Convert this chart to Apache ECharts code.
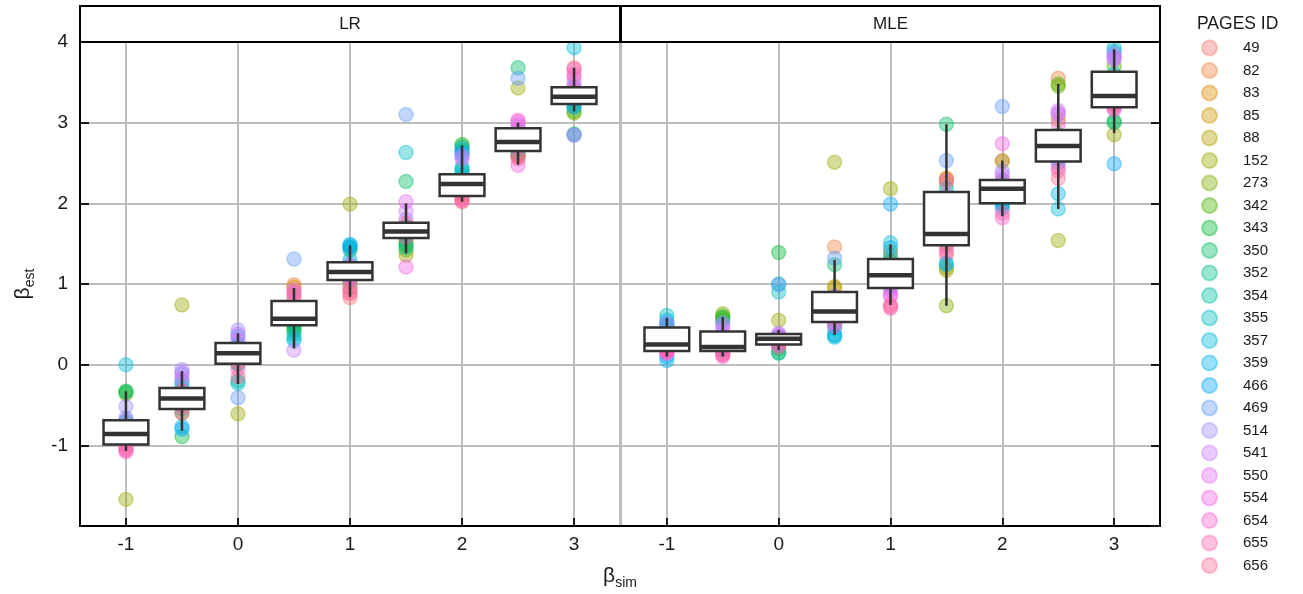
<!DOCTYPE html>
<html>
<head>
<meta charset="utf-8">
<script src="https://cdn.jsdelivr.net/npm/echarts@6/dist/echarts.min.js"></script>
<style>html,body{margin:0;padding:0;background:#fff}#c{width:1303px;height:594px}</style>
</head>
<body>
<div id="c"></div>
<script>
// ---- data ----
const ids = ['49','82','83','85','88','152','273','342','343','350','352','354','355','357','359','466','469','514','541','550','554','654','655','656'];
const xSim = [-1, -0.5, 0, 0.5, 1, 1.5, 2, 2.5, 3];
const facets = ['LR', 'MLE'];

// LR estimates, one array per beta_sim, ordered like ids
const lr_m1   = [-0.95,-0.90,-0.85,-0.88,-0.80,-1.67,-0.36,-0.78,-0.33,-0.34,-0.72,-0.70,-0.92,0.00,-0.87,-0.84,-0.66,-0.52,-0.69,-0.98,-1.05,-1.08,-1.06,-1.02];
const lr_m05  = [-0.45,-0.40,-0.38,-0.50,-0.35,0.74,-0.47,-0.60,-0.89,-0.55,-0.30,-0.43,-0.20,-0.25,-0.77,-0.80,-0.12,-0.06,-0.10,-0.18,-0.42,-0.52,-0.60,-0.33];
const lr_0    = [0.10,0.20,0.15,0.05,0.18,-0.61,0.12,0.08,0.02,0.22,0.00,-0.20,-0.23,0.14,0.25,0.35,-0.41,0.43,0.38,0.30,0.12,-0.05,0.03,-0.15];
const lr_05   = [0.90,0.99,0.96,0.85,0.60,0.55,0.50,0.45,0.42,0.48,0.52,0.38,0.33,0.30,0.58,0.62,1.31,0.70,0.18,0.92,0.88,0.56,0.80,0.65];
const lr_1    = [0.83,1.10,1.05,1.12,1.20,1.99,0.95,1.02,1.46,1.42,1.18,1.15,1.30,1.48,1.49,1.45,1.25,1.14,1.08,1.22,1.06,0.95,0.90,0.88];
const lr_15   = [1.60,1.66,1.70,1.62,1.55,1.36,1.42,1.48,1.50,2.27,1.58,1.45,2.63,1.72,1.63,1.68,3.10,1.80,1.90,2.02,1.21,1.65,1.58,1.75];
const lr_2    = [2.02,2.15,2.20,2.25,2.10,2.30,2.18,2.70,2.73,2.65,2.42,2.35,2.40,2.45,2.68,2.62,2.60,2.58,2.55,2.28,2.12,2.05,2.03,2.08];
const lr_25   = [2.60,2.70,2.75,2.80,2.85,3.43,2.72,2.58,2.62,3.68,2.78,2.66,2.90,2.82,2.76,2.70,3.55,2.95,2.98,3.01,2.47,3.03,2.55,2.58];
const lr_3    = [3.68,3.30,3.35,3.40,3.25,3.20,3.12,3.14,2.86,3.28,3.33,3.30,3.45,3.93,3.22,3.19,2.85,2.84,3.56,3.50,3.42,3.66,3.60,3.38];

// MLE estimates
const mle_m1  = [0.22,0.25,0.28,0.20,0.30,0.24,0.26,0.35,0.40,0.45,0.48,0.50,0.61,0.55,0.05,0.10,0.52,0.50,0.18,0.16,0.15,0.14,0.17,0.20];
const mle_m05 = [0.20,0.22,0.24,0.25,0.30,0.55,0.63,0.60,0.58,0.35,0.28,0.21,0.20,0.19,0.18,0.30,0.52,0.50,0.45,0.40,0.13,0.10,0.12,0.15];
const mle_0   = [0.30,0.31,0.33,0.34,0.32,0.55,0.28,0.20,1.39,0.15,0.14,1.00,0.90,0.27,0.26,0.35,0.99,0.37,0.39,0.36,0.30,0.25,0.22,0.29];
const mle_05  = [0.70,1.46,0.80,0.95,0.97,2.51,0.60,0.65,0.55,1.24,0.50,0.45,0.37,0.34,0.36,0.62,1.32,0.75,0.85,0.52,0.48,0.66,0.58,0.68];
const mle_1   = [1.05,1.20,1.40,1.30,1.25,2.18,1.15,1.10,1.00,0.98,1.12,1.28,1.35,1.51,1.45,1.99,1.08,0.95,0.92,0.86,0.85,0.72,0.70,0.74];
const mle_15  = [1.36,2.30,2.31,2.25,1.17,1.20,0.73,1.50,1.60,2.98,1.55,1.62,2.18,1.24,1.26,1.90,2.53,1.70,2.10,2.05,2.28,1.45,1.40,1.65];
const mle_2   = [2.53,2.20,2.18,2.15,2.22,2.52,2.10,2.25,2.05,2.00,2.12,2.19,2.28,2.02,1.98,1.94,3.20,2.40,2.35,2.30,2.74,1.82,1.88,2.16];
const mle_25  = [2.60,3.55,2.80,3.04,2.75,1.54,3.45,3.48,2.85,2.70,2.65,2.72,2.55,1.93,2.12,2.50,2.68,3.10,3.15,3.12,2.98,2.45,2.40,2.31];
const mle_3   = [3.30,3.35,3.25,3.40,3.50,2.85,3.20,3.70,3.00,3.02,3.45,3.55,3.93,3.88,3.60,2.49,3.80,3.85,3.82,3.78,3.16,3.18,3.22,3.28];

// box statistics per beta_sim (whisker low, Q1, median, Q3, whisker high)
const lrLo  = [-1.07,-0.82,-0.24,0.20,0.84,1.38,2.02,2.48,3.14];
const lrQ1  = [-0.99,-0.55,0.01,0.49,1.05,1.57,2.09,2.65,3.23];
const lrMed = [-0.86,-0.42,0.14,0.57,1.15,1.65,2.24,2.76,3.32];
const lrQ3  = [-0.69,-0.29,0.27,0.79,1.27,1.76,2.36,2.93,3.44];
const lrHi  = [-0.33,-0.08,0.39,0.95,1.48,2.00,2.72,3.00,3.68];

const mleLo  = [0.10,0.10,0.18,0.37,0.74,0.73,1.84,1.93,2.87];
const mleQ1  = [0.17,0.17,0.25,0.53,0.95,1.48,2.00,2.52,3.19];
const mleMed = [0.25,0.22,0.32,0.66,1.11,1.62,2.18,2.71,3.33];
const mleQ3  = [0.46,0.41,0.38,0.90,1.31,2.14,2.29,2.91,3.63];
const mleHi  = [0.58,0.59,0.43,1.30,1.49,2.98,2.53,3.48,3.91];

const yTicks = [-1, 0, 1, 2, 3, 4];

// ---- colours: ggplot hue palette (HCL, l=65, c=100) ----
function hcl(h, c, l) {
  const hr = h * Math.PI / 180;
  const U = c * Math.cos(hr), V = c * Math.sin(hr);
  const Xn = 95.047, Yn = 100, Zn = 108.883;
  const t = Xn + 15 * Yn + 3 * Zn, un = 4 * Xn / t, vn = 9 * Yn / t;
  const Y = Yn * Math.pow((l + 16) / 116, 3);
  const up = U / (13 * l) + un, vp = V / (13 * l) + vn;
  const X = 9 * Y * up / (4 * vp);
  const Z = -X / 3 - 5 * Y + 3 * Y / vp;
  const x = X / 100, y = Y / 100, z = Z / 100;
  const lin = [3.240479 * x - 1.537150 * y - 0.498535 * z,
               -0.969256 * x + 1.875992 * y + 0.041556 * z,
               0.055648 * x - 0.204043 * y + 1.057311 * z];
  return lin.map(v => {
    v = v <= 0.0031308 ? 12.92 * v : 1.055 * Math.pow(v, 1 / 2.4) - 0.055;
    return Math.round(Math.max(0, Math.min(1, v)) * 255);
  });
}
const palette = ids.map((_, i) => hcl(15 + 360 * i / ids.length, 100, 65));
const rgba = (c, a) => `rgba(${c[0]},${c[1]},${c[2]},${a})`;

const lrPts = [lr_m1, lr_m05, lr_0, lr_05, lr_1, lr_15, lr_2, lr_25, lr_3];
const mlePts = [mle_m1, mle_m05, mle_0, mle_05, mle_1, mle_15, mle_2, mle_25, mle_3];
const boxes = [
  xSim.map((x, i) => [x, lrLo[i], lrQ1[i], lrMed[i], lrQ3[i], lrHi[i]]),
  xSim.map((x, i) => [x, mleLo[i], mleQ1[i], mleMed[i], mleQ3[i], mleHi[i]])
];

const FONT = 'Liberation Sans, Arial, sans-serif';
const TXT = '#1a1a1a';

const series = [];
[lrPts, mlePts].forEach((pts, g) => {
  ids.forEach((id, k) => {
    series.push({
      type: 'scatter', name: id, xAxisIndex: g, yAxisIndex: g,
      symbol: 'circle', symbolSize: 14,
      itemStyle: { color: rgba(palette[k], 0.5), borderColor: rgba(palette[k], 0.5), borderWidth: 1.5 },
      emphasis: { disabled: true },
      data: xSim.map((x, i) => [x, pts[i][k]]),
      z: 2
    });
  });
});
boxes.forEach((bx, g) => {
  series.push({
    type: 'custom', xAxisIndex: g, yAxisIndex: g, z: 5, silent: true,
    data: bx,
    renderItem: function (params, api) {
      const x = api.value(0);
      const lo = api.coord([x, api.value(1)]);
      const q1 = api.coord([x, api.value(2)]);
      const md = api.coord([x, api.value(3)]);
      const q3 = api.coord([x, api.value(4)]);
      const hi = api.coord([x, api.value(5)]);
      const w = api.size([0.4, 0])[0];
      const cx = lo[0];
      const col = '#333333';
      return { type: 'group', children: [
        { type: 'line', shape: { x1: cx, y1: hi[1], x2: cx, y2: q3[1] }, style: { stroke: col, lineWidth: 2.5 } },
        { type: 'line', shape: { x1: cx, y1: q1[1], x2: cx, y2: lo[1] }, style: { stroke: col, lineWidth: 2.5 } },
        { type: 'rect', shape: { x: cx - w / 2, y: q3[1], width: w, height: q1[1] - q3[1] }, style: { fill: '#ffffff', stroke: col, lineWidth: 2.5 } },
        { type: 'line', shape: { x1: cx - w / 2, y1: md[1], x2: cx + w / 2, y2: md[1] }, style: { stroke: col, lineWidth: 4.5 } }
      ] };
    }
  });
});

const gridTop = 42, gridH = 484;
const grids = [
  { left: 80, top: gridTop, width: 540, height: gridH, show: true, borderColor: '#000', borderWidth: 2, backgroundColor: '#fff' },
  { left: 621, top: gridTop, width: 539, height: gridH, show: true, borderColor: '#000', borderWidth: 2, backgroundColor: '#fff' }
];
const splitLine = { show: true, lineStyle: { color: '#bebebe', width: 2 } };
const xAxes = [0, 1].map(g => ({
  type: 'value', gridIndex: g, min: -1.41, max: 3.41,
  axisLine: { show: true, onZero: false, lineStyle: { color: '#000', width: 2 } },
  axisTick: { show: true, inside: true, length: 8, lineStyle: { color: '#1a1a1a', width: 2 } },
  axisLabel: { fontSize: 19, color: TXT, fontFamily: FONT, margin: 9, showMinLabel: false, showMaxLabel: false,
    formatter: v => Number.isInteger(v) ? String(v) : '' },
  splitLine: splitLine
}));
const yAxes = [0, 1].map(g => ({
  type: 'value', gridIndex: g, min: -2, max: 4, interval: 1,
  position: g === 0 ? 'left' : 'right',
  axisLine: { show: true, onZero: false, lineStyle: { color: '#000', width: 2 } },
  axisTick: { show: true, inside: true, length: 9, lineStyle: { color: '#1a1a1a', width: 2 } },
  axisLabel: { show: g === 0, fontSize: 19, color: TXT, fontFamily: FONT, margin: 12, showMinLabel: false,
    formatter: v => yTicks.indexOf(v) >= 0 ? String(v) : '' },
  splitLine: splitLine,
  name: g === 0 ? '{b|β}{s|est}' : '',
  nameLocation: 'middle', nameGap: 43, nameRotate: 90,
  nameTextStyle: { rich: {
    b: { fontSize: 21, lineHeight: 28, color: TXT, fontFamily: FONT },
    s: { fontSize: 14, lineHeight: 14, verticalAlign: 'bottom', color: TXT, fontFamily: FONT }
  } }
}));

const graphics = [];
facets.forEach((f, g) => {
  const gx = grids[g].left, gw = grids[g].width;
  graphics.push({ type: 'rect', shape: { x: gx, y: 6, width: gw, height: 36 }, style: { fill: '#fff', stroke: '#000', lineWidth: 2 }, z: 10 });
  graphics.push({ type: 'text', x: gx + gw / 2, y: 24, style: { text: f, fontSize: 17, fill: TXT, fontFamily: FONT, align: 'center', verticalAlign: 'middle' }, z: 11 });
});
graphics.push({ type: 'text', x: 620, y: 576, style: {
  text: '{b|β}{s|sim}', align: 'center', verticalAlign: 'middle',
  rich: { b: { fontSize: 21, lineHeight: 28, fill: TXT, fontFamily: FONT }, s: { fontSize: 14, lineHeight: 14, verticalAlign: 'bottom', fill: TXT, fontFamily: FONT } }
}, z: 11 });
graphics.push({ type: 'text', x: 1197, y: 24, style: { text: 'PAGES ID', fontSize: 17.5, fill: TXT, fontFamily: FONT, align: 'left', verticalAlign: 'middle' }, z: 11 });

const chart = echarts.init(document.getElementById('c'), null, { renderer: 'canvas' });
chart.setOption({
  animation: false,
  backgroundColor: '#fff',
  grid: grids,
  xAxis: xAxes,
  yAxis: yAxes,
  legend: {
    data: ids, orient: 'vertical', left: 1201, top: 39.5, bottom: 0,
    itemWidth: 15, itemHeight: 15, itemGap: 5.5, icon: 'circle',
    selectedMode: false, padding: 0,
    textStyle: { fontSize: 15, lineHeight: 15, color: TXT, fontFamily: FONT, padding: [0, 0, 0, 21] }
  },
  graphic: graphics,
  series: series
});
</script>
</body>
</html>
